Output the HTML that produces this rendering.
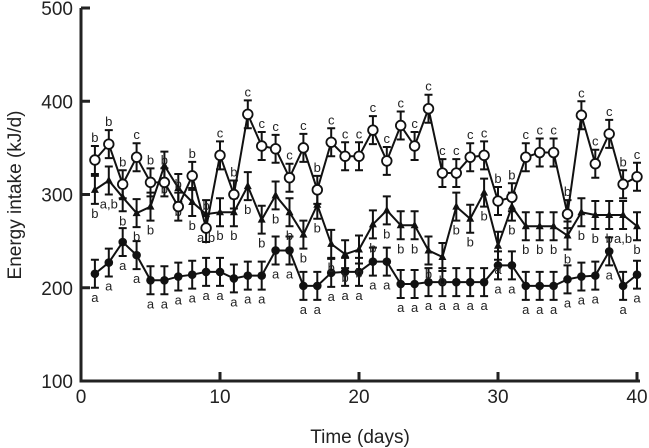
<!DOCTYPE html>
<html><head><meta charset="utf-8"><style>
html,body{margin:0;padding:0;background:#fff;}
svg{display:block;font-family:"Liberation Sans",Arial,sans-serif;}
</style></head><body>
<svg id="chart" width="649" height="448" viewBox="0 0 649 448">
<g id="axes"></g>
<g id="plot"></g>
<text x="360" y="443" font-size="19" text-anchor="middle" fill="#222">Time (days)</text>
<text transform="translate(21,195) rotate(-90)" font-size="19" text-anchor="middle" fill="#222">Energy intake (kJ/d)</text>
</svg>
<script>
const days = [1,2,3,4,5,6,7,8,9,10,11,12,13,14,15,16,17,18,19,20,21,22,23,24,25,26,27,28,29,30,31,32,33,34,35,36,37,38,39,40];
const openVals = [337,354,311,340,313,313,287,320,264,342,300,386,352,349,318,350,305,356,341,341,369,336,374,352,392,323,323,340,342,293,297,340,345,345,279,385,333,365,311,319];
const triVals = [305,315,297,280,287,331,307,292,279,281,281,309,273,299,281,257,289,247,236,241,268,283,267,267,240,233,287,274,302,245,287,266,266,266,256,281,278,278,278,266];
const filledVals = [215,227,249,235,208,208,212,214,217,217,210,213,213,240,240,202,202,216,217,217,228,228,204,204,206,206,206,206,206,224,224,202,202,202,209,212,213,239,202,214];
const openLabels = ["b","b","b","c","b","b","b","b","b","c","b","c","c","c","c","c","b","c","c","c","c","c","c","c","c","c","c","c","c","b","b","c","c","c","b","c","c","c","b","c"];
const triLabels = ["b","a,b","b","b","b","b","b","b","a,b","b","b","b","b","b","b","b","b","b","b","b","b","b","b","b","b","b","b","b","b","a","b","b","b","b","b","b","b","b","a,b","b"];
const filledLabels = ["a","a","a","a","a","a","a","a","a","a","a","a","a","a","a","a","a","a","a","a","a","a","a","a","a","a","a","a","a","a","a","a","a","a","a","a","a","a","a","a"];
const errVal = 15;
const xTicks = [0,10,20,30,40];
const yTicks = [100,200,300,400,500];

const NS="http://www.w3.org/2000/svg";
const X0=81,X1=637,Y0=381,Y1=8;
function xs(d){return X0+(d-0)/40*(X1-X0);}
function ys(v){return Y0-(v-100)/400*(Y0-Y1);}
function mk(tag,attrs,parent){const e=document.createElementNS(NS,tag);for(const k in attrs)e.setAttribute(k,attrs[k]);parent.appendChild(e);return e;}
const axes=document.getElementById('axes'),plot=document.getElementById('plot');

let a=mk('path',{d:`M${X0},${Y1} V${Y0} H${X1+3}`,stroke:'#222','stroke-width':3,fill:'none'},axes);


yTicks.forEach(t=>{
 const l=mk('line',{x1:X0,x2:X0+9,y1:ys(t),y2:ys(t),stroke:'#222','stroke-width':3},axes);
 
 
 const tx=mk('text',{x:X0-8,y:ys(t)+7,'font-size':19,'text-anchor':'end',fill:'#222'},axes);
 tx.textContent=t;
 
 
});
xTicks.forEach(t=>{
 const l=mk('line',{x1:xs(t),x2:xs(t),y1:Y0,y2:Y0-9,stroke:'#222','stroke-width':3},axes);
 
 
 const tx=mk('text',{x:xs(t),y:Y0+22,'font-size':19,'text-anchor':'middle',fill:'#222'},axes);
 tx.textContent=t;
 
 
});

function series(vals,labels,type,name,labelUp){
 const g=mk('g',{},plot);
 
 
 const p=mk('polyline',{points:days.map((d,i)=>xs(d)+','+ys(vals[i])).join(' '),fill:'none',stroke:'#111','stroke-width':2},g);
 
 
 days.forEach((d,i)=>{
  const x=xs(d),yt=ys(vals[i]+errVal),yb=ys(vals[i]-errVal);
  const e=mk('path',{d:`M${x},${yt}V${yb}M${x-4},${yt}H${x+4}M${x-4},${yb}H${x+4}`,stroke:'#111','stroke-width':2,fill:'none'},g);
  
  
  let m;
  if(type==='open') m=mk('circle',{cx:x,cy:ys(vals[i]),r:4.8,fill:'#fff',stroke:'#111','stroke-width':1.8},g);
  else if(type==='tri') m=mk('path',{d:`M${x},${ys(vals[i])-4.5}L${x+4},${ys(vals[i])+3}L${x-4},${ys(vals[i])+3}Z`,fill:'#111'},g);
  else m=mk('circle',{cx:x,cy:ys(vals[i]),r:4.3,fill:'#111'},g);
  
  
  const ly=labelUp?yt-4:yb+14;
  const t=mk('text',{x:x,y:ly,'font-size':13,'text-anchor':'middle',fill:'#222'},g);
  t.textContent=labels[i];
  
  
 });
}
series(filledVals,filledLabels,'filled','filled-circle',false);
series(triVals,triLabels,'tri','triangle',false);
series(openVals,openLabels,'open','open-circle',true);
</script>
</body></html>
